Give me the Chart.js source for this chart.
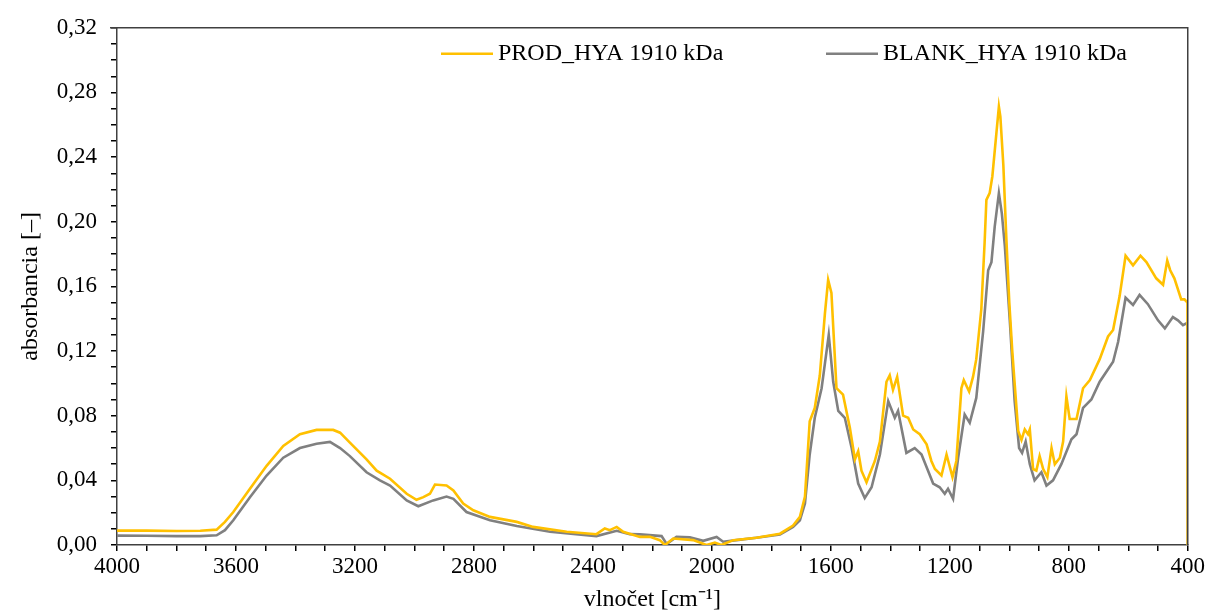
<!DOCTYPE html>
<html>
<head>
<meta charset="utf-8">
<script src="https://cdn.jsdelivr.net/npm/chart.js@4"></script>
<style>
  body { margin: 0; background: #fff; }
  #contenedor { width: 1207px; height: 614px; }
</style>
</head>
<body>
<div id="contenedor"><canvas id="grafico-ftir"></canvas></div>
<script>
const nombres_series = ['PROD_HYA 1910 kDa', 'BLANK_HYA 1910 kDa'];
const colores_series = ['#FFC000', '#808080'];

const onda_prod = [4000, 3900, 3800, 3720, 3665, 3637, 3609, 3553, 3497, 3441, 3385, 3329, 3273, 3250, 3217,
  3161, 3127, 3082, 3026, 2993, 2970, 2948, 2931, 2892, 2869, 2836, 2802, 2746, 2656, 2601, 2488, 2388,
  2360, 2343, 2320, 2298, 2242, 2208, 2175, 2158, 2130, 2063, 2018, 1990, 1968, 1928, 1850, 1771, 1727,
  1704, 1687, 1671, 1654, 1637, 1620, 1609, 1598, 1581, 1559, 1536, 1519, 1508, 1497, 1480, 1452, 1435,
  1413, 1402, 1391, 1377, 1357, 1340, 1323, 1301, 1278, 1262, 1250, 1228, 1211, 1191, 1178, 1161, 1153,
  1135, 1122, 1111, 1094, 1083, 1077, 1066, 1057, 1035, 1030, 1020, 1010, 1000, 990, 982, 970, 959, 948,
  937, 931, 920, 909, 898, 886, 872, 858, 847, 830, 819, 808, 797, 774, 752, 729, 696, 668, 651, 629, 609,
  584, 559, 539, 506, 483, 469, 459, 445, 422, 411, 401, 400];
const absorbancia_prod = [0.0089, 0.0089, 0.0087, 0.0088, 0.0095, 0.0143, 0.0204, 0.0348, 0.049, 0.0613,
  0.0685, 0.0712, 0.0712, 0.0695, 0.0633, 0.053, 0.046, 0.041, 0.0317, 0.028, 0.0296, 0.0317, 0.0374,
  0.0368, 0.0337, 0.0256, 0.0215, 0.0174, 0.0143, 0.0112, 0.0082, 0.0067, 0.0102, 0.0092, 0.0112, 0.0082,
  0.005, 0.0051, 0.003, 0.0, 0.004, 0.003, 0.0, 0.0015, 0.0, 0.003, 0.0045, 0.007, 0.012, 0.0174, 0.030,
  0.0766, 0.0848, 0.105, 0.143, 0.164, 0.156, 0.097, 0.093, 0.0725, 0.053, 0.058, 0.046, 0.0388, 0.052,
  0.064, 0.101, 0.105, 0.096, 0.104, 0.080, 0.0787, 0.0715, 0.0685, 0.0623, 0.052, 0.047, 0.043, 0.056,
  0.042, 0.052, 0.097, 0.102, 0.095, 0.104, 0.115, 0.146, 0.187, 0.2135, 0.2177, 0.228, 0.2712, 0.265,
  0.235, 0.19, 0.15, 0.12, 0.10, 0.0705, 0.065, 0.0715, 0.0685, 0.0715, 0.047, 0.046, 0.055, 0.047, 0.042,
  0.060, 0.050, 0.054, 0.064, 0.092, 0.078, 0.078, 0.097, 0.102, 0.115, 0.129, 0.133, 0.154, 0.179, 0.173,
  0.179, 0.175, 0.165, 0.161, 0.176, 0.170, 0.165, 0.152, 0.152, 0.150, 0.0];

const onda_blank = [4000, 3900, 3800, 3720, 3665, 3637, 3609, 3553, 3497, 3441, 3385, 3329, 3284, 3250,
  3217, 3161, 3116, 3082, 3026, 2987, 2937, 2892, 2869, 2825, 2746, 2656, 2544, 2388, 2320, 2276, 2242,
  2169, 2152, 2119, 2074, 2029, 1984, 1962, 1917, 1850, 1771, 1727, 1704, 1687, 1671, 1654, 1631, 1607,
  1592, 1575, 1553, 1530, 1508, 1486, 1463, 1435, 1407, 1385, 1374, 1346, 1318, 1295, 1256, 1234, 1217,
  1206, 1189, 1172, 1150, 1133, 1111, 1088, 1071, 1060, 1049, 1035, 1025, 1015, 998, 982, 967, 957, 945,
  931, 915, 892, 875, 853, 825, 791, 774, 752, 724, 696, 651, 634, 609, 584, 562, 534, 500, 477, 450, 433,
  416, 401, 400];
const absorbancia_blank = [0.0058, 0.0057, 0.0055, 0.0055, 0.006, 0.0092, 0.0153, 0.0296, 0.043, 0.054,
  0.060, 0.0627, 0.0638, 0.060, 0.055, 0.045, 0.040, 0.0368, 0.0276, 0.024, 0.0276, 0.030, 0.0286, 0.0204,
  0.0153, 0.0118, 0.0082, 0.0055, 0.0088, 0.0067, 0.0066, 0.0055, 0.0006, 0.005, 0.0047, 0.0026, 0.005,
  0.002, 0.003, 0.0045, 0.0065, 0.0112, 0.0153, 0.0257, 0.056, 0.0787, 0.097, 0.130, 0.101, 0.083, 0.0787,
  0.060, 0.038, 0.029, 0.0357, 0.056, 0.089, 0.0787, 0.083, 0.057, 0.060, 0.056, 0.038, 0.0357, 0.0317,
  0.0348, 0.0286, 0.054, 0.0807, 0.0756, 0.091, 0.132, 0.170, 0.175, 0.197, 0.2177, 0.205, 0.185, 0.138,
  0.089, 0.060, 0.057, 0.064, 0.050, 0.040, 0.045, 0.0368, 0.040, 0.050, 0.0654, 0.0685, 0.0848, 0.090,
  0.101, 0.1134, 0.1257, 0.153, 0.1485, 0.1547, 0.149, 0.139, 0.134, 0.141, 0.139, 0.136, 0.1375, 0.0];

const titulo_x = 'vlnočet [cm⁻¹]';
const titulo_y = 'absorbancia [–]';

const fuente = 'Liberation Serif';

// arma los puntos {x, y} a partir de los arreglos
function armar_puntos(ondas, valores) {
  return ondas.map((w, i) => ({ x: w, y: valores[i] }));
}

// marco superior y derecho del area del grafico
const plugin_marco = {
  id: 'marco',
  afterDraw(chart) {
    const { ctx, chartArea } = chart;
    ctx.save();
    ctx.strokeStyle = '#404040';
    ctx.lineWidth = 1.5;
    ctx.beginPath();
    ctx.moveTo(chartArea.left - 7, chartArea.top);
    ctx.lineTo(chartArea.right, chartArea.top);
    ctx.lineTo(chartArea.right, chartArea.bottom);
    ctx.stroke();
    ctx.restore();
  }
};

// leyenda dibujada dentro del area, arriba a la derecha
const plugin_leyenda = {
  id: 'leyenda',
  afterDraw(chart) {
    const { ctx, chartArea } = chart;
    const inicios = [chartArea.left + 324, chartArea.left + 709];
    const y = chartArea.top + 26;
    ctx.save();
    ctx.font = '24px "' + fuente + '"';
    ctx.textBaseline = 'middle';
    ctx.fillStyle = '#000';
    chart.data.datasets.forEach((ds, i) => {
      ctx.strokeStyle = ds.borderColor;
      ctx.lineWidth = 2.5;
      ctx.beginPath();
      ctx.moveTo(inicios[i], y);
      ctx.lineTo(inicios[i] + 52, y);
      ctx.stroke();
      ctx.fillText(ds.label, inicios[i] + 57, y);
    });
    ctx.restore();
  }
};

new Chart(document.getElementById('grafico-ftir').getContext('2d'), {
  type: 'line',
  data: {
    datasets: [
      {
        label: nombres_series[0],
        data: armar_puntos(onda_prod, absorbancia_prod),
        borderColor: colores_series[0],
        borderWidth: 2.6,
        pointRadius: 0,
        tension: 0
      },
      {
        label: nombres_series[1],
        data: armar_puntos(onda_blank, absorbancia_blank),
        borderColor: colores_series[1],
        borderWidth: 2.6,
        pointRadius: 0,
        tension: 0
      }
    ]
  },
  options: {
    responsive: true,
    maintainAspectRatio: false,
    animation: false,
    layout: { padding: { top: 23, right: 19, left: 0, bottom: 0 } },
    plugins: {
      legend: { display: false },
      tooltip: { enabled: false }
    },
    scales: {
      x: {
        type: 'linear',
        reverse: true,
        min: 400,
        max: 4000,
        afterFit: (escala) => { escala.height = 69; },
        border: { display: true, color: '#404040', width: 1.5 },
        grid: { drawOnChartArea: false, tickLength: 6, color: '#000', lineWidth: 1.5 },
        ticks: {
          stepSize: 100,
          autoSkip: false,
          maxRotation: 0,
          padding: 2,
          color: '#000',
          font: { family: fuente, size: 23 },
          callback: (v) => (Math.round(v) % 400 === 0 ? String(Math.round(v)) : '')
        },
        title: {
          display: true,
          text: titulo_x,
          color: '#000',
          font: { family: fuente, size: 24 },
          padding: { top: 0, bottom: 0 }
        }
      },
      y: {
        min: 0,
        max: 0.32,
        afterFit: (escala) => { escala.width = 117; },
        border: { display: true, color: '#404040', width: 1.5 },
        grid: { drawOnChartArea: false, tickLength: 6, color: '#000', lineWidth: 1.5 },
        ticks: {
          stepSize: 0.01,
          autoSkip: false,
          padding: 14,
          color: '#000',
          font: { family: fuente, size: 23 },
          callback: (v) => {
            const c = Math.round(v * 100);
            return c % 4 === 0 ? (c / 100).toFixed(2).replace('.', ',') : '';
          }
        },
        title: {
          display: true,
          text: titulo_y,
          color: '#000',
          font: { family: fuente, size: 24 },
          padding: { top: 16, bottom: 0 }
        }
      }
    }
  },
  plugins: [plugin_marco, plugin_leyenda]
});
</script>
</body>
</html>
